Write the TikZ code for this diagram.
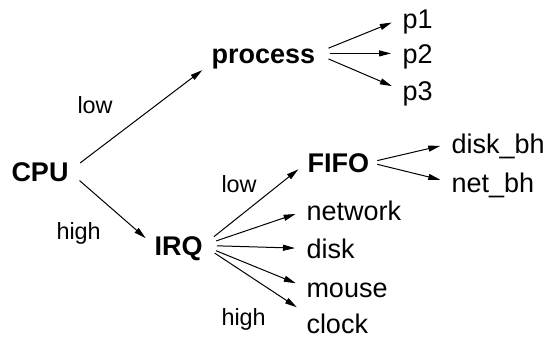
\documentclass[tikz,border=0pt]{standalone}
\usepackage{fontspec}
\setmainfont{Liberation Sans}
\usetikzlibrary{arrows.meta}
\begin{document}
\begin{tikzpicture}[x=.5pt,y=-.5pt,line width=.5pt,>={Triangle[length=6pt,width=3pt]},
  every node/.style={inner sep=0pt,anchor=base west},
  hub/.style={font=\fontsize{13.5}{15}\selectfont\bfseries,text height=9.6pt,text depth=0pt},
  leaf/.style={font=\fontsize{13.5}{15}\selectfont,text height=9.6pt,text depth=0pt},
  prio/.style={font=\fontsize{11.7}{14}\selectfont},
  fan/.style={->,shorten <=7pt,shorten >=5.5pt}]
\useasboundingbox (0,0) rectangle (545,339);
% scheduler levels
\node[hub] (cpu) at (11,181) {CPU};
\node[hub] (process) at (211,63) {process};
\node[hub] (irq) at (154,255) {IRQ};
\node[hub] (fifo) at (307,172) {FIFO};
% leaves
\foreach \n/\y in {p1/28,p2/63,p3/100}{\node[leaf] (\n) at (402,\y) {\n};}
\foreach \n/\y in {network/220,disk/258,mouse/297,clock/333}{\node[leaf] (\n) at (306,\y) {\n};}
\node[leaf] (diskbh) at (451,153) {disk\_bh};
\node[leaf] (netbh) at (451,192) {net\_bh};
% priorities
\node[prio] (cpulow) at (77,113) {low};
\node[prio] (cpuhigh) at (56,239) {high};
\node[prio] (irqlow) at (221,192) {low};
\node[prio] (irqhigh) at (221,325) {high};
% edges
\draw[fan] (cpu.east) -- (process.south west);
\draw[fan] (cpu.east) -- (irq.west);
\foreach \n in {p1,p2,p3}{\draw[fan] (process.east) -- (\n.west);}
\foreach \n in {fifo,network,disk,mouse}{\draw[fan] (irq.east) -- (\n.west);}
\draw[fan] (irq.east) -- (clock.north west);
\foreach \n in {diskbh,netbh}{\draw[fan,shorten <=4pt] (fifo.east) -- (\n.west);}
\end{tikzpicture}
\end{document}
